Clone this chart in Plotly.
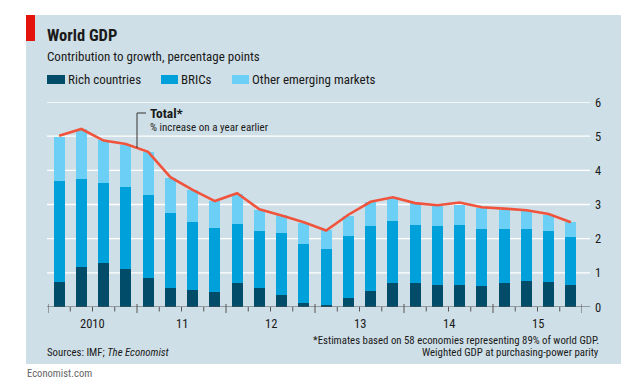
import plotly.graph_objects as go

# ---- data ----
quarters = [f"{y} Q{q}" for y in range(2010, 2016) for q in range(1, 5)]
rich = [0.74, 1.17, 1.29, 1.10, 0.85, 0.57, 0.51, 0.44, 0.70, 0.55, 0.35, 0.12,
        0.05, 0.26, 0.47, 0.71, 0.69, 0.64, 0.64, 0.61, 0.70, 0.77, 0.73, 0.64]
brics = [2.96, 2.58, 2.35, 2.42, 2.43, 2.18, 1.99, 1.88, 1.73, 1.67, 1.82, 1.73,
         1.66, 1.81, 1.91, 1.80, 1.72, 1.72, 1.76, 1.66, 1.57, 1.52, 1.48, 1.41]
other = [1.29, 1.45, 1.25, 1.23, 1.25, 1.04, 0.93, 0.79, 0.89, 0.63, 0.51, 0.61,
         0.53, 0.60, 0.68, 0.68, 0.62, 0.59, 0.60, 0.63, 0.58, 0.51, 0.49, 0.43]
total = [5.01, 5.21, 4.87, 4.77, 4.54, 3.80, 3.43, 3.10, 3.33, 2.86, 2.68, 2.48,
         2.24, 2.70, 3.08, 3.21, 3.04, 2.98, 3.06, 2.92, 2.88, 2.83, 2.72, 2.48]
year_labels = ["2010", "11", "12", "13", "14", "15"]
y_ticks = [0, 1, 2, 3, 4, 5, 6]

# ---- layout geometry ----
W_, H_ = 630, 387
L, R, T, B = 48, 48, 102, 80
PW = W_ - L - R
PH = H_ - T - B
def X(px):
    return (px - L) / PW
def Y(py):
    return (H_ - B - py) / PH

FONT = "Liberation Sans Narrow, Arial Narrow, Roboto Condensed, sans-serif"
TXT = "#1a1a1a"
C_RICH, C_BRIC, C_OTHER, C_LINE = "#014d69", "#00a1db", "#6ccff5", "#f0543c"
PANEL = "#cfdfe7"

xs = list(range(len(quarters)))
fig = go.Figure()
fig.add_bar(x=xs, y=rich, marker_color=C_RICH, width=0.5, name="Rich countries",
            marker_line_width=0)
fig.add_bar(x=xs, y=brics, marker_color=C_BRIC, width=0.5, name="BRICs",
            marker_line_width=0)
fig.add_bar(x=xs, y=other, marker_color=C_OTHER, width=0.5, name="Other emerging markets",
            marker_line_width=0)
fig.add_scatter(x=xs, y=total, mode="lines", line=dict(color=C_LINE, width=2.6),
                name="Total")

shapes = []
# panel background
shapes.append(dict(type="rect", xref="paper", yref="paper", x0=X(26), x1=X(621),
                   y0=Y(364), y1=Y(15), fillcolor=PANEL, line_width=0, layer="below"))
# red block
shapes.append(dict(type="rect", xref="paper", yref="paper", x0=X(26), x1=X(35),
                   y0=Y(41), y1=Y(15), fillcolor="#e3120b", line_width=0, layer="below"))
# gridlines
for v in y_ticks[1:]:
    shapes.append(dict(type="line", xref="paper", yref="y", x0=X(47), x1=X(590),
                       y0=v, y1=v, line=dict(color="white", width=1.3), layer="below"))
# baseline
shapes.append(dict(type="line", xref="paper", yref="y", x0=X(47), x1=X(590),
                   y0=0, y1=0, line=dict(color="#555555", width=1)))
# x ticks
n = len(quarters)
for i in range(n + 1):
    xb = i - 0.5
    if i % 4 == 0:
        shapes.append(dict(type="line", xref="x", yref="paper", x0=xb, x1=xb,
                           y0=Y(313), y1=Y(304), line=dict(color="#555555", width=1)))
    else:
        shapes.append(dict(type="line", xref="x", yref="paper", x0=xb, x1=xb,
                           y0=Y(311.5), y1=Y(307), line=dict(color="#555555", width=1)))
# leader line for Total
shapes.append(dict(type="line", xref="paper", yref="paper", x0=X(137), x1=X(146),
                   y0=Y(113), y1=Y(113), line=dict(color="#333333", width=1)))
shapes.append(dict(type="line", xref="paper", yref="paper", x0=X(137), x1=X(137),
                   y0=Y(113), y1=Y(148), line=dict(color="#333333", width=1)))
# legend swatches
for x0, x1, c in [(47, 65, C_RICH), (161, 178, C_BRIC), (232, 249, C_OTHER)]:
    shapes.append(dict(type="rect", xref="paper", yref="paper", x0=X(x0), x1=X(x1),
                       y0=Y(84), y1=Y(75), fillcolor=c, line_width=0))

ann = []
def text(px, py, s, size, anchor="left", color=TXT):
    ann.append(dict(xref="paper", yref="paper", x=X(px), y=Y(py), text=s,
                    showarrow=False, xanchor=anchor, yanchor="middle",
                    font=dict(family=FONT, size=size, color=color)))

text(45, 36, "<b>World GDP</b>", 16.5)
text(45, 56, "Contribution to growth, percentage points", 13)
text(66, 79.5, "Rich countries", 13)
text(179, 79.5, "BRICs", 13)
text(250, 79.5, "Other emerging markets", 13)
text(148, 113, "<b>Total*</b>", 13.5)
text(148, 127, "% increase on a year earlier", 11)
for k, lab in enumerate(year_labels):
    ann.append(dict(xref="x", yref="paper", x=4 * k + 1.5, y=Y(323.5), text=lab,
                    showarrow=False, xanchor="center", yanchor="middle",
                    font=dict(family=FONT, size=12.5, color=TXT)))
for v in y_ticks:
    ann.append(dict(xref="paper", yref="y", x=X(593), y=v, text=str(v),
                    showarrow=False, xanchor="left", yanchor="middle",
                    font=dict(family=FONT, size=12.5, color=TXT)))
text(45, 352, "Sources: IMF; <i>The Economist</i>", 10.8)
text(601, 340.5, "*Estimates based on 58 economies representing 89% of world GDP.", 10.8, "right")
text(601, 352.5, "Weighted GDP at purchasing-power parity", 10.8, "right")
text(25, 373, "Economist.com", 10.6, "left", "#666666")

fig.update_layout(
    width=W_, height=H_, margin=dict(l=L, r=R, t=T, b=B, autoexpand=False),
    paper_bgcolor="white", plot_bgcolor="rgba(0,0,0,0)",
    barmode="stack", bargap=0, showlegend=False,
    xaxis=dict(range=[-0.5, n - 0.5], showgrid=False, zeroline=False,
               showticklabels=False, ticks="", showline=False, fixedrange=True),
    yaxis=dict(range=[0, 6], showgrid=False, zeroline=False, showticklabels=False,
               ticks="", showline=False, fixedrange=True),
    shapes=shapes, annotations=ann,
)
fig.write_html("out.html", config={"displayModeBar": False},
               post_script="document.body.style.margin='0';")
